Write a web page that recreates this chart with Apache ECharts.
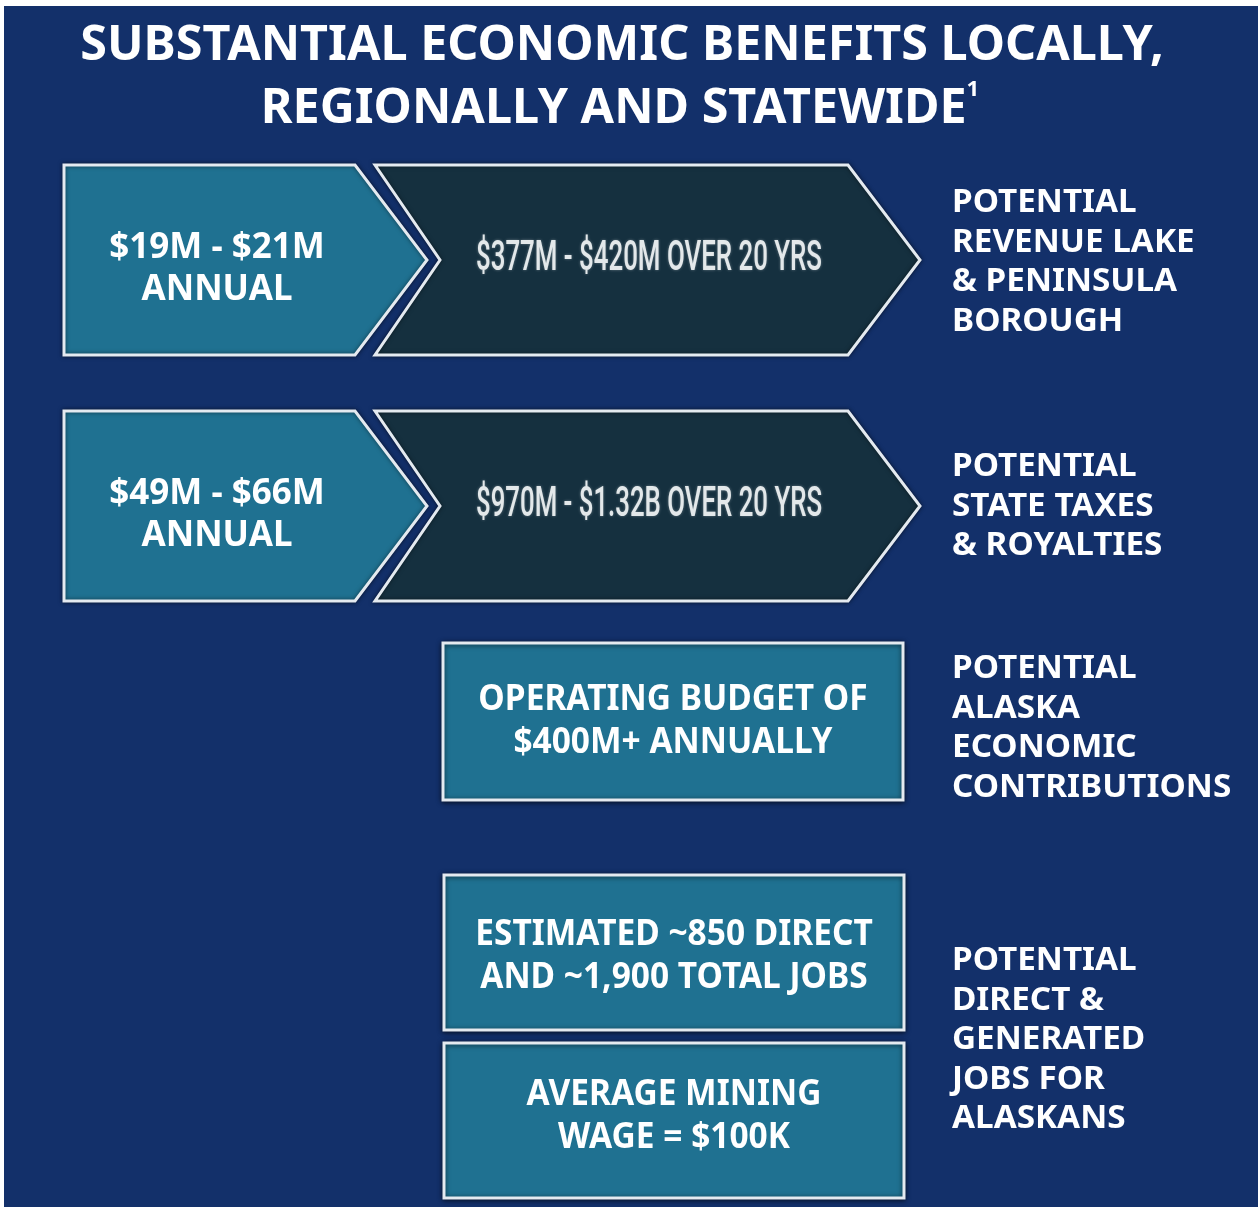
<!DOCTYPE html>
<html>
<head>
<meta charset="utf-8">
<title>Economic benefits</title>
<script src="https://cdn.jsdelivr.net/npm/echarts@6/dist/echarts.min.js"></script>
<style>
  html, body { margin: 0; padding: 0; background: #ffffff; }
  #main { width: 1258px; height: 1207px; }
</style>
</head>
<body>
<div id="main"></div>
<script>
// content of the infographic
const titleLines = ["SUBSTANTIAL ECONOMIC BENEFITS LOCALLY,", "REGIONALLY AND STATEWIDE"];
const titleNote = "1";
const annualRanges = ["$19M - $21M", "$49M - $66M"];
const annualSuffix = "ANNUAL";
const twentyYearTotals = ["$377M - $420M OVER 20 YRS", "$970M - $1.32B OVER 20 YRS"];
const boxTexts = [
  ["OPERATING BUDGET OF", "$400M+ ANNUALLY"],
  ["ESTIMATED ~850 DIRECT", "AND ~1,900 TOTAL JOBS"],
  ["AVERAGE MINING", "WAGE = $100K"]
];
const sideLabels = [
  ["POTENTIAL", "REVENUE LAKE", "& PENINSULA", "BOROUGH"],
  ["POTENTIAL", "STATE TAXES", "& ROYALTIES"],
  ["POTENTIAL", "ALASKA", "ECONOMIC", "CONTRIBUTIONS"],
  ["POTENTIAL", "DIRECT &", "GENERATED", "JOBS FOR", "ALASKANS"]
];

// colours
const navy = "#13306a";
const teal = "#1f7191";
const dark = "#15303f";
const edge = "#e4eaf0";
const bold = "bold 35px 'Noto Sans'";
const narrow = "500 42px Roboto";

// squeeze the 20-year text to the width it has in the original
const ctx = document.createElement("canvas").getContext("2d");
ctx.font = narrow;
function fitScale(text, width) {
  return width / ctx.measureText(text).width;
}

const chart = echarts.init(document.getElementById("main"));
const els = [];

// background panel
els.push({ type: "rect", shape: { x: 4, y: 6, width: 1254, height: 1201 }, style: { fill: navy } });

// title
els.push({
  type: "text", x: 622, y: 46, scaleX: 1.01,
  style: { text: titleLines[0], font: "bold 48px 'Noto Sans'", fill: "#fff", align: "center", verticalAlign: "middle" }
});
els.push({
  type: "text", x: 620, y: 109, scaleX: 1.01,
  style: {
    text: "{t|" + titleLines[1] + "}{s|" + titleNote + "}",
    align: "center", verticalAlign: "middle",
    rich: {
      t: { font: "bold 48px 'Noto Sans'", fill: "#fff", lineHeight: 60 },
      s: { font: "bold 22px 'Noto Sans'", fill: "#fff", verticalAlign: "top", lineHeight: 60, padding: [0, 0, 26, 0] }
    }
  }
});

// chevron rows
const rowTop = [165, 411];
const rowH = 190;
annualRanges.forEach(function (range, i) {
  const t = rowTop[i], m = t + rowH / 2, b = t + rowH;
  els.push({
    type: "polygon",
    shape: { points: [[64, t], [355, t], [427, m], [355, b], [64, b]] },
    style: { fill: teal, stroke: edge, lineWidth: 3, shadowBlur: 4, shadowColor: "rgba(0,0,0,0.5)" }
  });
  els.push({
    type: "polygon",
    shape: { points: [[375, t], [848, t], [920, m], [848, b], [375, b], [440, m]] },
    style: { fill: dark, stroke: edge, lineWidth: 3, shadowBlur: 4, shadowColor: "rgba(0,0,0,0.5)" }
  });
  els.push({
    type: "text", x: 217, y: m - 12,
    style: { text: range, font: bold, fill: "#fff", align: "center", verticalAlign: "middle" }
  });
  els.push({
    type: "text", x: 217, y: m + 30,
    style: { text: annualSuffix, font: bold, fill: "#fff", align: "center", verticalAlign: "middle" }
  });
  els.push({
    type: "text", x: 649, y: m - 1, scaleX: fitScale(twentyYearTotals[i], 346),
    style: {
      text: twentyYearTotals[i], font: narrow, fill: "#e3e8ea",
      align: "center", verticalAlign: "middle", textShadowBlur: 3, textShadowColor: "rgba(255,255,255,0.35)"
    }
  });
});

// rectangular boxes
const boxRects = [[443, 643, 460, 157], [444, 875, 460, 155], [444, 1043, 460, 155]];
const boxTextMid = [721.5, 956.5, 1116.5];
boxTexts.forEach(function (lines, i) {
  const r = boxRects[i];
  els.push({
    type: "rect",
    shape: { x: r[0], y: r[1], width: r[2], height: r[3] },
    style: { fill: teal, stroke: edge, lineWidth: 3, shadowBlur: 5, shadowColor: "rgba(0,0,0,0.6)", shadowOffsetY: 1 }
  });
  lines.forEach(function (line, k) {
    els.push({
      type: "text", x: r[0] + r[2] / 2, y: boxTextMid[i] + (k - 0.5) * 43, scaleX: 0.93,
      style: { text: line, font: "bold 36px 'Noto Sans'", fill: "#fff", align: "center", verticalAlign: "middle" }
    });
  });
});

// side labels
const sideTop = [203, 467, 669, 961];
sideLabels.forEach(function (lines, i) {
  lines.forEach(function (line, k) {
    els.push({
      type: "text", x: 952, y: sideTop[i] + k * 39.5, scaleX: 1.04,
      style: { text: line, font: "bold 32px 'Noto Sans'", fill: "#fff", align: "left", verticalAlign: "middle" }
    });
  });
});

chart.setOption({
  backgroundColor: "#ffffff",
  animation: false,
  graphic: { elements: els }
});

window.onresize = function () {
  chart.resize();
};
</script>
</body>
</html>
